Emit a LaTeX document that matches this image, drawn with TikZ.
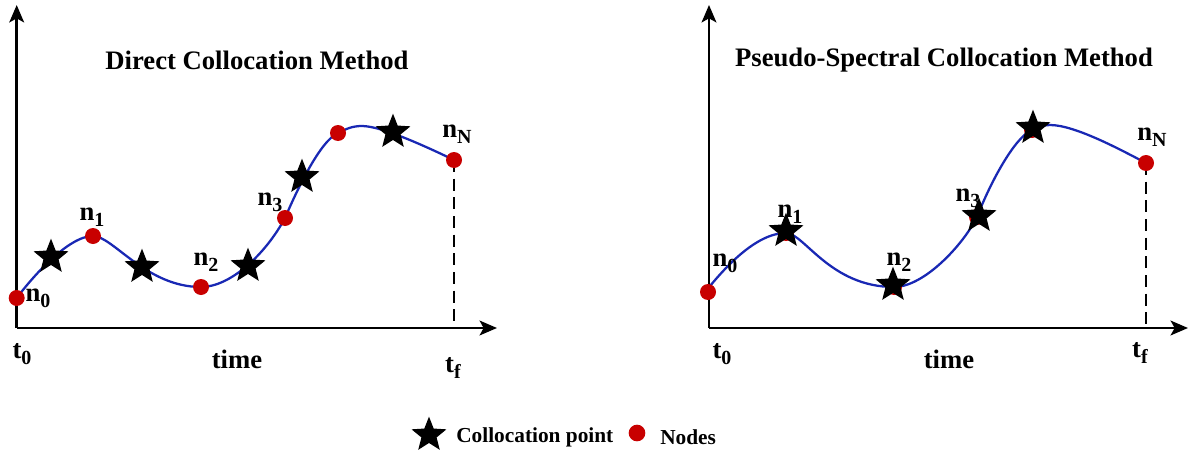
\documentclass[tikz,border=0pt]{standalone}
\usepackage{fontspec}
\setmainfont{Liberation Serif}
\usetikzlibrary{shapes.geometric,arrows.meta}
\definecolor{nodered}{RGB}{200,0,0}
\definecolor{curveblue}{RGB}{25,40,180}
\newcommand\sbs[1]{\raisebox{-0.5ex}{\fontsize{15}{15}\selectfont #1}}
\tikzset{
  axis/.style={line width=2.2pt,-{Stealth[length=13pt,width=11pt,inset=3pt]}},
  curve/.style={curveblue,line width=1.7pt},
  nd/.style={circle,fill=nodered,inner sep=0pt,minimum size=12pt},
  cp/.style={star,star points=5,star point ratio=2.3,fill=black,inner sep=0pt,minimum size=27.5pt},
  lbl/.style={font=\bfseries\fontsize{20}{20}\selectfont,inner sep=0pt},
  ttl/.style={font=\bfseries\fontsize{20}{20}\selectfont,inner sep=0pt},
  leg/.style={font=\bfseries\fontsize{16}{16}\selectfont,inner sep=0pt,anchor=west},
  drop/.style={line width=1.6pt,dash pattern=on 9pt off 5pt},
}
\begin{document}
\begin{tikzpicture}[x=0.75pt,y=-0.75pt]
\useasboundingbox (0,0) rectangle (1198,453);
% ===== Left panel =====
\coordinate (LO) at (16.7,328);
\coordinate (LY) at (16.7,5);
\coordinate (LX) at (497,328);
\draw[axis] (LO) -- (LY);
\draw[axis] (LO) -- (LX);
\node[ttl] (ltitle) at (257,60) {Direct Collocation Method};
\coordinate (a0) at (16.7,298);
\coordinate (a1) at (93,236);
\coordinate (a2) at (201,287);
\coordinate (a3) at (285,218);
\coordinate (a4) at (338,133);
\coordinate (ap) at (362,126);
\coordinate (aN) at (454,160);
\coordinate (aNx) at (454,328);
\draw[drop] (aN) -- (aNx);
\draw[curve] (a0) .. controls (31.7,278) and (68,236) .. (a1)
  .. controls (113,236) and (146,287) .. (a2)
  .. controls (230,287) and (265,255) .. (a3)
  .. controls (297,190) and (320,141) .. (a4)
  .. controls (346,129) and (352,126) .. (ap)
  .. controls (382,126) and (429,148) .. (aN);
\foreach \p in {a0,a1,a2,a3,a4,aN} \node[nd] at (\p) {};
\node[cp] (as1) at (51,257) {};
\node[cp] (as2) at (142,267) {};
\node[cp] (as3) at (248,266) {};
\node[cp] (as4) at (302,177) {};
\node[cp] (as5) at (393,132) {};
\node[lbl] (la0) at (38,298) {n\sbs{0}};
\node[lbl] (la1) at (92,217) {n\sbs{1}};
\node[lbl] (la2) at (206,262) {n\sbs{2}};
\node[lbl] (la3) at (270,202) {n\sbs{3}};
\node[lbl] (laN) at (457,134) {n\sbs{N}};
\node[lbl] (lt0) at (22,354) {t\sbs{0}};
\node[lbl] (ltime) at (237,359) {time};
\node[lbl] (ltf) at (453,368) {t\sbs{f}};
% ===== Right panel =====
\coordinate (RO) at (709,328);
\coordinate (RY) at (709,5);
\coordinate (RX) at (1188,328);
\draw[axis] (RO) -- (RY);
\draw[axis] (RO) -- (RX);
\node[ttl] (rtitle) at (944,60) {Pseudo-Spectral Collocation Method};
\coordinate (b0) at (708,292);
\coordinate (bs) at (710,286);
\coordinate (b1) at (786,233);
\coordinate (b2) at (894,287);
\coordinate (b3) at (977,217);
\coordinate (b4) at (1032,130);
\coordinate (bp) at (1050,125);
\coordinate (bN) at (1146,163);
\coordinate (bNx) at (1146,328);
\draw[drop] (bN) -- (bNx);
\draw[curve] (bs) .. controls (725,268) and (756,233) .. (b1)
  .. controls (804,233) and (830,287) .. (b2)
  .. controls (924,287) and (963,245) .. (b3)
  .. controls (991,181) and (1015,137) .. (b4)
  .. controls (1040,127) and (1044,125) .. (bp)
  .. controls (1075,125) and (1121,150) .. (bN);
\foreach \p in {b0,b1,b2,b3,b4,bN} \node[nd] at (\p) {};
\node[cp] (bs1) at (786,231) {};
\node[cp] (bs2) at (893,285) {};
\node[cp] (bs3) at (979,216) {};
\node[cp] (bs4) at (1033,128) {};
\node[lbl] (lb0) at (725,263) {n\sbs{0}};
\node[lbl] (lb1) at (790,214) {n\sbs{1}};
\node[lbl] (lb2) at (899,262) {n\sbs{2}};
\node[lbl] (lb3) at (968,198) {n\sbs{3}};
\node[lbl] (lbN) at (1152,137) {n\sbs{N}};
\node[lbl] (rt0) at (722,354) {t\sbs{0}};
\node[lbl] (rtime) at (949,359) {time};
\node[lbl] (rtf) at (1140,353) {t\sbs{f}};
% ===== Legend =====
\node[cp] (legstar) at (429,435) {};
\node[leg] (legcp) at (456,437) {Collocation point};
\node[nd,minimum size=12.5pt] (legdot) at (637,433) {};
\node[leg] (legnd) at (660,437) {Nodes};
\end{tikzpicture}
\end{document}
